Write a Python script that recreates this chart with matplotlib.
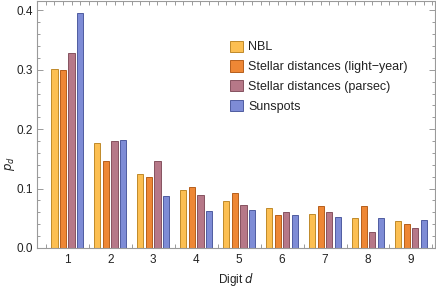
import matplotlib
matplotlib.use('Agg')
import matplotlib.pyplot as plt
import numpy as np
from matplotlib.patches import Patch

plt.rcParams['font.family'] = ['Liberation Sans', 'DejaVu Sans']

digits = [1, 2, 3, 4, 5, 6, 7, 8, 9]
series = ['NBL', 'Stellar distances (light\u2212year)', 'Stellar distances (parsec)', 'Sunspots']
nbl = [0.301, 0.176, 0.125, 0.097, 0.079, 0.067, 0.058, 0.051, 0.046]
light_year = [0.300, 0.146, 0.120, 0.103, 0.093, 0.056, 0.070, 0.070, 0.040]
parsec = [0.329, 0.180, 0.147, 0.090, 0.072, 0.060, 0.060, 0.027, 0.033]
sunspots = [0.395, 0.182, 0.088, 0.062, 0.064, 0.055, 0.053, 0.050, 0.047]

faces = ['#FCBF52', '#EE8735', '#B67888', '#7E8CD6']
edges = ['#C08A2A', '#B65E1C', '#86525F', '#4F5CA0']
data = [nbl, light_year, parsec, sunspots]

fig = plt.figure(figsize=(4.36, 2.88), dpi=100)
ax = fig.add_axes([37/436, 40/288, 398/436, 247/288])

x = np.array(digits, dtype=float)
for i, vals in enumerate(data):
    ax.bar(x + (i - 1.5) * 0.2, vals, width=0.145, color=faces[i],
           edgecolor=edges[i], linewidth=0.7, zorder=2)

ax.set_xlim(0.295, 9.56)
ax.set_ylim(0, 0.4157)

frame = '#9a9a9a'
for s in ax.spines.values():
    s.set_color(frame)
    s.set_linewidth(0.8)

ax.set_xticks(digits)
ax.set_xticks(np.arange(0.5, 9.6, 0.2), minor=True)
ax.set_yticks([0.0, 0.1, 0.2, 0.3, 0.4])
ax.set_yticklabels(['0.0', '0.1', '0.2', '0.3', '0.4'])
ax.set_yticks(np.arange(0, 0.415, 0.02), minor=True)
ax.tick_params(axis='x', which='major', length=0, labelsize=8.5, pad=4, labelcolor='#222222')
ax.tick_params(axis='x', which='minor', length=3, direction='in', color=frame,
               top=True, bottom=True, width=0.7)
ax.tick_params(axis='y', which='major', length=4, direction='in', color=frame,
               labelsize=8.5, labelcolor='#222222', right=True, width=0.7, pad=3)
ax.tick_params(axis='y', which='minor', length=2, direction='in', color=frame,
               right=True, width=0.7)

# axis labels placed in figure pixels so they stay inside the canvas
fig.text(236/436, 4.5/288, 'Digit $d$', fontsize=8.5, color='#222222',
         ha='center', va='baseline')
fig.text(10/436, 124/288, '$p_d$', fontsize=8.5, color='#222222',
         ha='center', va='center', rotation=90)

handles = [Patch(facecolor=faces[i], edgecolor=edges[i], linewidth=0.7) for i in range(4)]
ax.legend(handles, series, loc='upper left', bbox_to_anchor=(0.47, 0.865),
          frameon=False, fontsize=9, handlelength=1.0, handleheight=1.0,
          handletextpad=0.45, labelspacing=0.55, borderpad=0, labelcolor='#222222')

fig.savefig('out.png', dpi=100)
